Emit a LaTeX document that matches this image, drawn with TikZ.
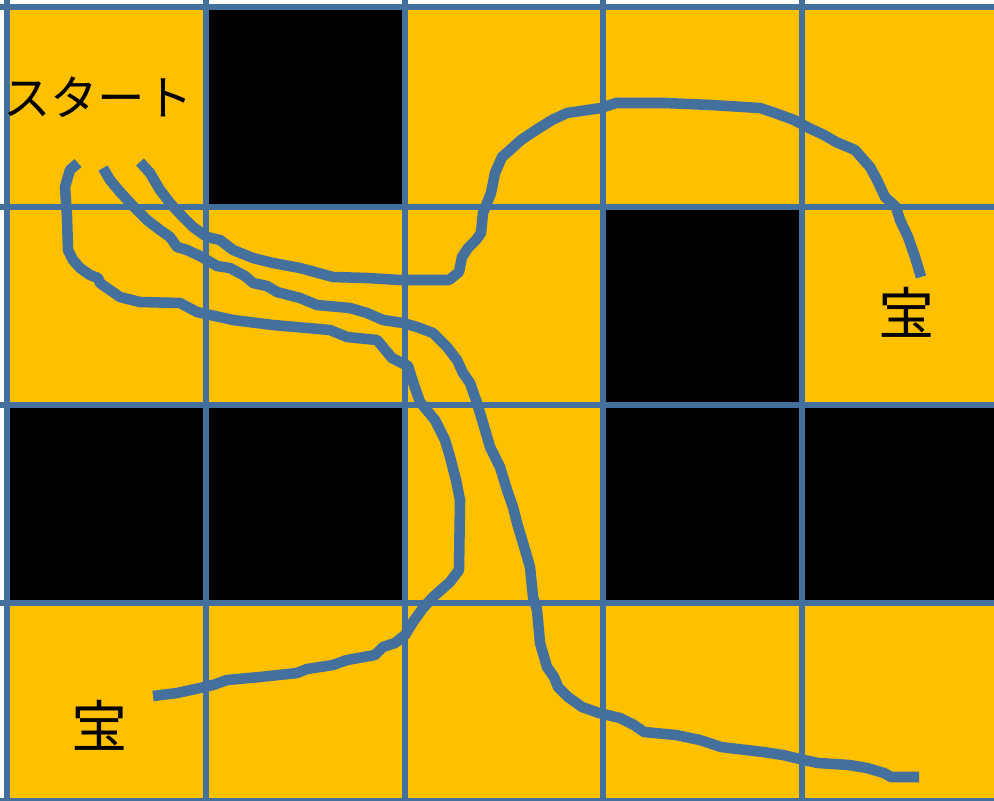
\documentclass[tikz,border=0pt]{standalone}
\usepackage{fontspec}
\newfontfamily\jpfont{Noto Sans CJK JP}
\definecolor{gold}{HTML}{FFC000}
\definecolor{steel}{HTML}{44709D}

\begin{document}
\begin{tikzpicture}[x=0.01cm, y=-0.01cm,
  gridline/.style={steel, line width=1.45pt},
  wall/.style={fill=black},
  route/.style={steel, line width=3pt, line join=round},
  label/.style={font=\jpfont\fontsize{13.5pt}{14pt}\selectfont, inner sep=0pt}]

  \useasboundingbox (0,0) rectangle (994,800);
  \clip (0,0) rectangle (994,800);

  % 盤面: 5 列 x 4 行, 一マス約 199
  \fill[gold] (7,7) rectangle (1001,801);
  \fill[wall] (206,7)   rectangle (405,207);
  \fill[wall] (603,207) rectangle (802,405);
  \fill[wall] (7,405)   rectangle (206,603);
  \fill[wall] (206,405) rectangle (405,603);
  \fill[wall] (603,405) rectangle (802,603);
  \fill[wall] (802,405) rectangle (1001,603);

  % 罫線
  \foreach \x in {7, 206, 405, 603, 802}
    \draw[gridline] (\x,0) -- (\x,801);
  \foreach \y in {7, 207, 405, 603, 801}
    \draw[gridline] (0,\y) -- (1001,\y);

  % 文字
  \node[label] (start) at (98,97) {スタート};
  \node[label, font=\jpfont\fontsize{16pt}{17pt}\selectfont] (treasureA) at (100,725) {宝};
  \node[label, font=\jpfont\fontsize{16pt}{17pt}\selectfont] (treasureB) at (907,312) {宝};

  % 左の道: 左下の宝へ
  \draw[route] (78,163) -- (70,170) -- (67,180) -- (65,187) -- (67,217)
    -- (68,250) -- (73,260) -- (80,268) -- (90,275) -- (98,278) -- (100,283)
    -- (107,288) -- (120,297) -- (140,302) -- (180,303) -- (197,312)
    -- (233,320) -- (273,325) -- (330,330) -- (347,337) -- (377,340)
    -- (392,358) -- (408,366) -- (414,385) -- (420,402) -- (435,420)
    -- (445,440) -- (450,457) -- (456,480) -- (460,500) -- (459,570)
    -- (450,582) -- (433,597) -- (423,608) -- (413,622) -- (405,635)
    -- (395,643) -- (383,647) -- (375,655) -- (347,660) -- (333,665)
    -- (307,669) -- (297,673) -- (260,677) -- (227,680) -- (213,685)
    -- (200,688) -- (177,693) -- (153,696);

  % 中の道: 右下へ抜ける
  \draw[route] (103,168) -- (110,180) -- (120,192) -- (133,206) -- (147,220)
    -- (160,230) -- (170,237) -- (177,247) -- (187,250) -- (200,256)
    -- (217,266) -- (230,268) -- (245,276) -- (253,283) -- (267,286)
    -- (277,292) -- (300,298) -- (317,305) -- (350,308) -- (367,313)
    -- (383,320) -- (403,323) -- (417,327) -- (433,333) -- (447,347)
    -- (457,360) -- (463,373) -- (470,383) -- (477,403) -- (483,423)
    -- (490,447) -- (500,467) -- (507,490) -- (513,507) -- (517,523)
    -- (523,543) -- (530,567) -- (533,597) -- (537,610) -- (540,643)
    -- (547,667) -- (554,677) -- (558,687) -- (568,697) -- (582,707)
    -- (599,713) -- (620,718) -- (634,725) -- (644,732) -- (676,735)
    -- (700,740) -- (721,747) -- (763,752) -- (783,755) -- (804,760)
    -- (818,763) -- (849,765) -- (867,768) -- (884,773) -- (891,777)
    -- (919,777);

  % 右の道: 右上の宝へ
  \draw[route] (140,162) -- (150,173) -- (160,190) -- (170,203) -- (183,217)
    -- (193,227) -- (207,237) -- (220,240) -- (233,250) -- (253,258)
    -- (273,263) -- (300,268) -- (333,277) -- (367,278) -- (400,280)
    -- (449,280) -- (459,272) -- (462,257) -- (468,248) -- (476,240)
    -- (481,233) -- (483,213) -- (491,193) -- (495,173) -- (502,157)
    -- (510,150) -- (521,140) -- (536,130) -- (552,120) -- (567,113)
    -- (601,108) -- (616,103) -- (665,103) -- (711,105) -- (760,108)
    -- (775,113) -- (794,120) -- (809,128) -- (824,135) -- (836,142)
    -- (855,150) -- (870,167) -- (877,180) -- (885,197) -- (896,207)
    -- (900,220) -- (908,237) -- (915,257) -- (921,277);
\end{tikzpicture}
\end{document}
